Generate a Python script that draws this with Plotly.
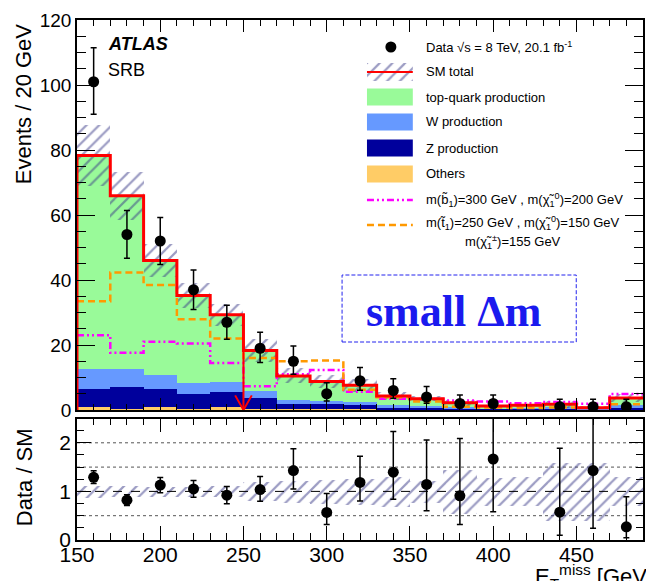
import plotly.graph_objects as go

# ---------------- data ----------------
bin_low = [150, 170, 190, 210, 230, 250, 270, 290, 310, 330, 350, 370, 390, 410, 430, 450, 470]
bin_width = 20
x_max = 490

data_counts = [101, 54, 52, 37, 27, 19, 15, 5, 9, 6, 4, 2, 2, None, 1, 1, 1]
data_err_hi = [10.5, 7.4, 7.2, 6.1, 5.2, 4.9, 4.7, 3.4, 4.1, 3.6, 3.2, 2.6, 2.6, 0, 2.3, 2.3, 2.3]
data_err_lo = [10.0, 7.3, 7.2, 6.1, 5.2, 4.4, 4.0, 2.2, 2.9, 2.4, 1.9, 1.3, 1.3, 0, 0.83, 0.83, 0.83]

sm_total = [78.3, 65.9, 46.0, 35.2, 29.3, 18.3, 10.5, 8.8, 7.6, 4.3, 3.5, 2.2, 1.2, 1.5, 1.75, 0.7, 3.7]
sm_unc = [9.5, 7.4, 5.0, 3.9, 3.3, 3.6, 2.3, 2.1, 2.0, 1.3, 0.8, 1.0, 0.35, 0.45, 1.05, 0.42, 1.1]

others = [0.8, 0.4, 0.8, 0.4, 0.8, 0.3, 0.3, 0.2, 0.2, 0.1, 0.1, 0.1, 0.1, 0.1, 0.1, 0.05, 0.1]
z_prod = [5.6, 6.6, 5.7, 4.4, 4.8, 3.4, 1.7, 1.5, 1.3, 0.8, 0.7, 0.5, 0.3, 0.3, 0.4, 0.2, 0.8]
w_prod = [6.1, 5.5, 4.3, 3.4, 3.1, 2.2, 1.2, 1.2, 0.9, 0.6, 0.5, 0.3, 0.2, 0.2, 0.3, 0.1, 0.6]

stop_signal = [33.5, 42.3, 38.5, 27.9, 22.0, 16.0, 15.0, 15.2, 6.2, 3.9, 2.6, 1.0, 0.8, 0.6, 0.8, 0.7, 1.8]
sbottom_signal = [23.0, 17.6, 21.0, 20.5, 14.5, 7.3, 11.0, 12.3, 5.6, 3.5, 3.4, 2.9, 2.6, 2.1, 2.5, 1.9, 4.9]

legend_labels = ["Data \u221As = 8 TeV, 20.1 fb<sup>-1</sup>", "SM total", "top-quark production",
                 "W production", "Z production", "Others",
                 "m(b\u0303<sub>1</sub>)=300 GeV , m(\u03C7\u0303<sub>1</sub><sup>0</sup>)=200 GeV",
                 "m(t\u0303<sub>1</sub>)=250 GeV , m(\u03C7\u0303<sub>1</sub><sup>0</sup>)=150 GeV",
                 "m(\u03C7\u0303<sub>1</sub><sup>\u00B1</sup>)=155 GeV"]

# ---------------- colours ----------------
C_TOP = "#99fa99"
C_W = "#6699ff"
C_Z = "#00009c"
C_OTH = "#ffcc66"
C_HATCH = "#3a3a88"
C_RED = "#ff0000"
C_MAG = "#ff00ff"
C_ORA = "#ff9900"
FONT = "Liberation Sans"

centers = [b + bin_width / 2 for b in bin_low]
top_prod = [s - o - z - w for s, o, z, w in zip(sm_total, others, z_prod, w_prod)]
edges = bin_low + [x_max]

def step(vals):
    return edges, list(vals) + [vals[-1]]

HATCH = dict(shape="/", fgcolor=C_HATCH, bgcolor="rgba(0,0,0,0)", size=9, solidity=0.25)

fig = go.Figure()

# stacked backgrounds
base = [0.0] * len(bin_low)
for vals, col, name in [(others, C_OTH, "Others"), (z_prod, C_Z, "Z"), (w_prod, C_W, "W"), (top_prod, C_TOP, "top")]:
    fig.add_trace(go.Bar(x=centers, y=vals, base=list(base), width=bin_width, marker_color=col,
                         marker_line_width=0, showlegend=False, name=name, xaxis="x", yaxis="y"))
    base = [b + v for b, v in zip(base, vals)]

# hatched SM uncertainty band
fig.add_trace(go.Bar(x=centers, y=[2 * u for u in sm_unc], base=[s - u for s, u in zip(sm_total, sm_unc)],
                     width=bin_width, marker=dict(color="rgba(0,0,0,0)", line_width=0, pattern=HATCH),
                     showlegend=False, xaxis="x", yaxis="y"))

# signal lines
sx, sy = step(sbottom_signal)
fig.add_trace(go.Scatter(x=sx, y=sy, mode="lines", line=dict(shape="hv", color=C_MAG, width=2.5, dash="7px,3px,2px,3px,2px,3px"),
                         showlegend=False, xaxis="x", yaxis="y"))
sx, sy = step(stop_signal)
fig.add_trace(go.Scatter(x=sx, y=sy, mode="lines", line=dict(shape="hv", color=C_ORA, width=2.5, dash="7px,4px"),
                         showlegend=False, xaxis="x", yaxis="y"))

# SM total red line
sx, sy = step(sm_total)
fig.add_trace(go.Scatter(x=[edges[0]] + sx, y=[0] + sy, mode="lines", line=dict(shape="hv", color=C_RED, width=3),
                         showlegend=False, xaxis="x", yaxis="y"))

# data
fig.add_trace(go.Scatter(x=centers, y=data_counts, mode="markers",
                         marker=dict(color="black", size=11),
                         error_y=dict(type="data", array=data_err_hi, arrayminus=data_err_lo, color="black", thickness=1.5, width=3),
                         showlegend=False, xaxis="x", yaxis="y"))

# ratio panel
ratio = [d / s if d is not None else None for d, s in zip(data_counts, sm_total)]
r_hi = [e / s for e, s in zip(data_err_hi, sm_total)]
r_lo = [e / s for e, s in zip(data_err_lo, sm_total)]
fig.add_trace(go.Bar(x=centers, y=[2 * u / s for u, s in zip(sm_unc, sm_total)],
                     base=[1 - u / s for u, s in zip(sm_unc, sm_total)], width=bin_width,
                     marker=dict(color="rgba(0,0,0,0)", line_width=0, pattern=HATCH),
                     showlegend=False, xaxis="x2", yaxis="y2"))
fig.add_trace(go.Scatter(x=centers, y=ratio, mode="markers", marker=dict(color="black", size=11),
                         error_y=dict(type="data", array=r_hi, arrayminus=r_lo, color="black", thickness=1.5, width=3),
                         showlegend=False, xaxis="x2", yaxis="y2"))

# legend hatch box (small helper axes)
L, R, T, B = 77, 645, 20, 540
W_, H_ = R - L, B - T
px = lambda v: (v - L) / W_
py = lambda v: (B - v) / H_

fig.add_trace(go.Bar(x=[0.5], y=[1], width=1, marker=dict(color="rgba(0,0,0,0)", line_width=0, pattern=HATCH),
                     showlegend=False, xaxis="x3", yaxis="y3"))

shapes = []
annotations = []

# ratio reference lines
for yv in [0.5, 1.5, 2.0]:
    shapes.append(dict(type="line", xref="x2 domain", yref="y2", x0=0, x1=1, y0=yv, y1=yv,
                       line=dict(color="#555555", width=1, dash="dot"), layer="below"))
shapes.append(dict(type="line", xref="x2 domain", yref="y2", x0=0, x1=1, y0=1, y1=1,
                   line=dict(color="black", width=1, dash="dash")))

# cut arrow at 250
shapes.append(dict(type="line", xref="x", yref="y", x0=250, x1=250, y0=sm_total[5], y1=0, line=dict(color=C_RED, width=2)))
shapes.append(dict(type="path", xref="x", yref="y", path="M 245,4.5 L 250,0 L 255,4.5", line=dict(color=C_RED, width=2)))

# legend
bx0, bx1 = px(368), px(414)
tx = px(425)
rows = [(47, None), (72, "hatch"), (97, C_TOP), (122, C_W), (148, C_Z), (174, C_OTH)]
shapes.append(dict(type="circle", xref="paper", yref="paper", xsizemode="pixel", ysizemode="pixel",
                   xanchor=px(392), yanchor=py(47), x0=-5.5, x1=5.5, y0=-5.5, y1=5.5,
                   fillcolor="black", line=dict(color="black", width=0)))
for yc, col in rows[2:]:
    shapes.append(dict(type="rect", xref="paper", yref="paper", x0=bx0, x1=bx1, y0=py(yc + 8.5), y1=py(yc - 8.5),
                       fillcolor=col, line=dict(width=0)))
shapes.append(dict(type="line", xref="paper", yref="paper", x0=bx0, x1=bx1, y0=py(72), y1=py(72),
                   line=dict(color=C_RED, width=2)))
shapes.append(dict(type="line", xref="paper", yref="paper", x0=bx0, x1=bx1, y0=py(200), y1=py(200),
                   line=dict(color=C_MAG, width=2.5, dash="7px,3px,2px,3px,2px,3px")))
shapes.append(dict(type="line", xref="paper", yref="paper", x0=bx0, x1=bx1, y0=py(225), y1=py(225),
                   line=dict(color=C_ORA, width=2.5, dash="7px,4px")))

for yc, lab in zip([47, 72, 97, 122, 148, 174, 200, 223], legend_labels[:8]):
    annotations.append(dict(x=tx, y=py(yc), xref="paper", yref="paper", text=lab, showarrow=False,
                            xanchor="left", yanchor="middle", font=dict(family=FONT, size=13, color="black")))
annotations.append(dict(x=px(515), y=py(242), xref="paper", yref="paper", text=legend_labels[8], showarrow=False,
                        xanchor="center", yanchor="middle", font=dict(family=FONT, size=13, color="black")))

# small Delta m box
shapes.append(dict(type="rect", xref="paper", yref="paper", x0=px(343), x1=px(578), y0=py(342), y1=py(275),
                   line=dict(color="#2222ee", width=1, dash="4px,2px")))
annotations.append(dict(x=px(455), y=py(311), xref="paper", yref="paper", text="<b>small \u0394m</b>", showarrow=False,
                        xanchor="center", yanchor="middle", font=dict(family="Liberation Serif", size=44, color="#1a1aee")))

# ATLAS label
annotations.append(dict(x=px(106), y=py(44), xref="paper", yref="paper", text="<b><i>ATLAS</i></b>", showarrow=False,
                        xanchor="left", yanchor="middle", font=dict(family=FONT, size=18, color="black")))
annotations.append(dict(x=px(106), y=py(70), xref="paper", yref="paper", text="SRB", showarrow=False,
                        xanchor="left", yanchor="middle", font=dict(family=FONT, size=18, color="black")))

# axis titles
annotations.append(dict(x=px(24), y=py(104), xref="paper", yref="paper", text="Events / 20 GeV", showarrow=False,
                        textangle=-90, xanchor="center", yanchor="middle", font=dict(family=FONT, size=22, color="black")))
annotations.append(dict(x=px(24), y=py(477), xref="paper", yref="paper", text="Data / SM", showarrow=False,
                        textangle=-90, xanchor="center", yanchor="middle", font=dict(family=FONT, size=22, color="black")))
annotations.append(dict(x=px(535), y=py(559), xref="paper", yref="paper", text="E<sub>T</sub><sup>miss</sup> [GeV]",
                        showarrow=False, xanchor="left", yanchor="top", font=dict(family=FONT, size=22, color="black")))

axis_common = dict(showgrid=False, zeroline=False, showline=True, linecolor="black", linewidth=1.5,
                   mirror="ticks", ticks="inside", tickcolor="black", tickwidth=1.2)

fig.update_layout(
    width=646, height=581,
    margin=dict(l=L, r=646 - R, t=T, b=581 - B),
    paper_bgcolor="white", plot_bgcolor="white",
    barmode="overlay", bargap=0,
    font=dict(family=FONT, color="black"),
    xaxis=dict(domain=[0, 1], range=[150, x_max], anchor="y", showticklabels=False,
               dtick=50, tick0=150, ticklen=12, minor=dict(dtick=10, ticklen=6, ticks="inside", tickcolor="black"),
               **axis_common),
    yaxis=dict(domain=[py(410), 1], range=[0, 120], anchor="x", dtick=20, ticklen=18,
               tickfont=dict(size=19), minor=dict(dtick=5, ticklen=9, ticks="inside", tickcolor="black"),
               **axis_common),
    xaxis2=dict(domain=[0, 1], range=[150, x_max], anchor="y2", matches="x", dtick=50, tick0=150, ticklen=14,
                tickfont=dict(size=21), ticklabelstandoff=-5,
                minor=dict(dtick=10, ticklen=7, ticks="inside", tickcolor="black"),
                **axis_common),
    yaxis2=dict(domain=[0, py(418.5)], range=[0, 2.5], anchor="x2", tickvals=[0, 1, 2], ticklen=14,
                tickfont=dict(size=21), minor=dict(dtick=0.25, ticklen=7, ticks="inside", tickcolor="black"),
                **axis_common),
    xaxis3=dict(domain=[bx0, bx1], range=[0, 1], anchor="y3", visible=False, fixedrange=True),
    yaxis3=dict(domain=[py(81), py(63)], range=[0, 1], anchor="x3", visible=False, fixedrange=True),
    shapes=shapes,
    annotations=annotations,
)

fig.write_html("out.html")
